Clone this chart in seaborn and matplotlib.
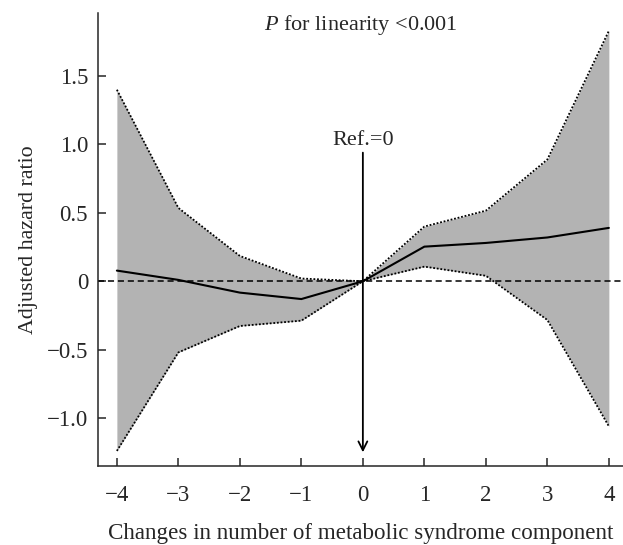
import numpy as np
import pandas as pd
import seaborn as sns
import matplotlib.pyplot as plt

# values
changes = [-4, -3, -2, -1, 0, 1, 2, 3, 4]
hr_mean = [0.078, 0.01, -0.083, -0.13, 0.0, 0.253, 0.28, 0.32, 0.39]
hr_upper = [1.40, 0.536, 0.185, 0.02, 0.0, 0.40, 0.516, 0.89, 1.83]
hr_lower = [-1.24, -0.52, -0.327, -0.288, 0.0, 0.107, 0.04, -0.283, -1.06]
ytick_vals = [-1.0, -0.5, 0, 0.5, 1.0, 1.5]
ytick_labels = ["\u22121.0", "\u22120.5", "0", "0.5", "1.0", "1.5"]
xtick_labels = ["\u22124", "\u22123", "\u22122", "\u22121", "0", "1", "2", "3", "4"]

df = pd.DataFrame({"change": changes, "mean": hr_mean,
                   "upper": hr_upper, "lower": hr_lower})

sns.set_style("ticks")
plt.rcParams["font.family"] = ["Liberation Serif", "DejaVu Serif"]
plt.rcParams["font.size"] = 16
plt.rcParams["mathtext.fontset"] = "custom"
plt.rcParams["mathtext.rm"] = "Liberation Serif"
plt.rcParams["mathtext.it"] = "Liberation Serif:italic"

fig = plt.figure(figsize=(6.23, 5.45), dpi=100)
ax = fig.add_axes([0.157, 0.145, 0.843, 0.831])

ax.fill_between(df["change"], df["lower"], df["upper"], color="#b3b3b3", lw=0)
sns.lineplot(x="change", y="upper", data=df, ax=ax, color="black",
             linestyle=(0, (1, 1)), linewidth=1.3)
sns.lineplot(x="change", y="lower", data=df, ax=ax, color="black",
             linestyle=(0, (1, 1)), linewidth=1.3)
sns.lineplot(x="change", y="mean", data=df, ax=ax, color="black", linewidth=1.5)

ax.axhline(0, color="black", linestyle=(0, (4, 2.5)), linewidth=1.1)

# reference arrow
ax.annotate("", xy=(0, -1.25), xytext=(0, 0.94),
            arrowprops=dict(arrowstyle="->", color="black", lw=1.3,
                            shrinkA=0, shrinkB=0))
ax.text(0, 1.03, "Ref.=0", ha="center", va="center", fontsize=16)
ax.text(-0.04, 1.87, "$\\it{P}$ for linearity <0.001", ha="center",
        va="center", fontsize=16)

ax.set_xlim(-4.31, 4.23)
ax.set_ylim(-1.35, 1.96)
ax.set_xticks(changes)
ax.set_xticklabels(xtick_labels)
ax.set_yticks(ytick_vals)
ax.set_yticklabels(ytick_labels)
ax.tick_params(direction="in", length=6, width=1.1, labelsize=16.5)
ax.tick_params(axis="x", pad=14)
ax.tick_params(axis="y", pad=7)
ax.set_xlabel("Changes in number of metabolic syndrome component",
              fontsize=16.6, labelpad=12)
ax.set_ylabel("Adjusted hazard ratio", fontsize=15.8, labelpad=6)
sns.despine(ax=ax)
for s in ["left", "bottom"]:
    ax.spines[s].set_linewidth(1.1)

fig.savefig("out.png", dpi=100)
